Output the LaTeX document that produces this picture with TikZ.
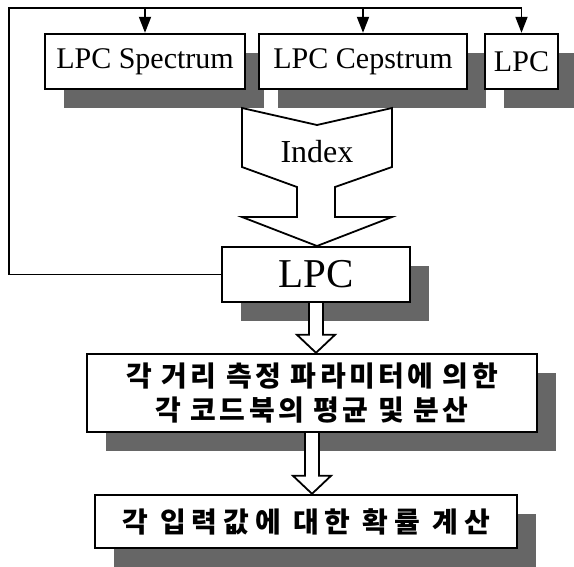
\documentclass[tikz,border=0pt]{standalone}
\usepackage{fontspec}
\setmainfont{Liberation Serif}
\newfontfamily\kofont{Noto Sans CJK KR}
\usetikzlibrary{arrows.meta,calc,shadows}

\begin{document}
\begin{tikzpicture}[
  x=1pt, y=-1pt,
  box/.style={draw, fill=white, line width=2.4pt, inner sep=0pt, align=center,
              drop shadow={shadow xshift=19pt, shadow yshift=-19pt,
                           fill=black!60, opacity=1}},
  top/.style={box, minimum height=55pt, font=\fontsize{30}{30}\selectfont},
  ko/.style={box, font=\kofont\bfseries\fontsize{28}{34}\selectfont
             \addfontfeatures{LetterSpace=#1}},
  fat/.style={draw, fill=white, line width=1.8pt, line join=miter},
  ln/.style={line width=1.8pt},
  ar/.style={ln, -{Triangle[length=16pt, width=12pt]}}
]
\useasboundingbox (0,0) rectangle (574,566);

% ---- feature boxes -----------------------------------------------------
\node[top, minimum width=200pt] (spec) at (145,61.5) {LPC Spectrum};
\node[top, minimum width=208pt] (ceps) at (363,61.5) {LPC Cepstrum};
\node[top, minimum width=73pt] (lpcs) at (521.5,61.5) {LPC};

% ---- index arrow -------------------------------------------------------
\draw[fat] (242,108) -- (317,125) -- (392,108) -- (392,167) -- (335,187)
  -- (335,217) -- (392,217) -- (317,246) -- (242,217) -- (297,217)
  -- (297,187) -- (242,167) -- cycle;
\node[font=\fontsize{32}{32}\selectfont] (idx) at (317,152) {Index};

% ---- codebook chain ----------------------------------------------------
\node[box, minimum width=188pt, minimum height=55pt,
      font=\fontsize{41}{41}\selectfont] (lpc) at (316,274.5) {LPC};
\node[ko=12, minimum width=450pt, minimum height=78pt] (kta) at (312,393)
  {각 거리 측정 파라미터에 의한\\각 코드북의 평균 및 분산};
\node[ko=21, minimum width=422pt, minimum height=53pt] (ktb) at (306,521.5)
  {각 입력값에 대한 확률 계산};

\foreach \a/\b in {lpc/kta, kta/ktb}
  \draw[fat] ($(\a.south)+(-7,0)$) -- ($(\a.south |- \b.north)+(-7,-18)$)
    -- ++(-12,0) -- (\a.south |- \b.north) -- ++(19,-18) -- ++(-12,0)
    -- ($(\a.south)+(7,0)$);

% ---- feedback ----------------------------------------------------------
\coordinate (fb) at (9,8);
\draw[ar] (lpc.west) -| (fb) -| (lpcs.north);
\foreach \b in {spec,ceps} \draw[ar] (\b.north |- fb) -- (\b.north);
\end{tikzpicture}
\end{document}
